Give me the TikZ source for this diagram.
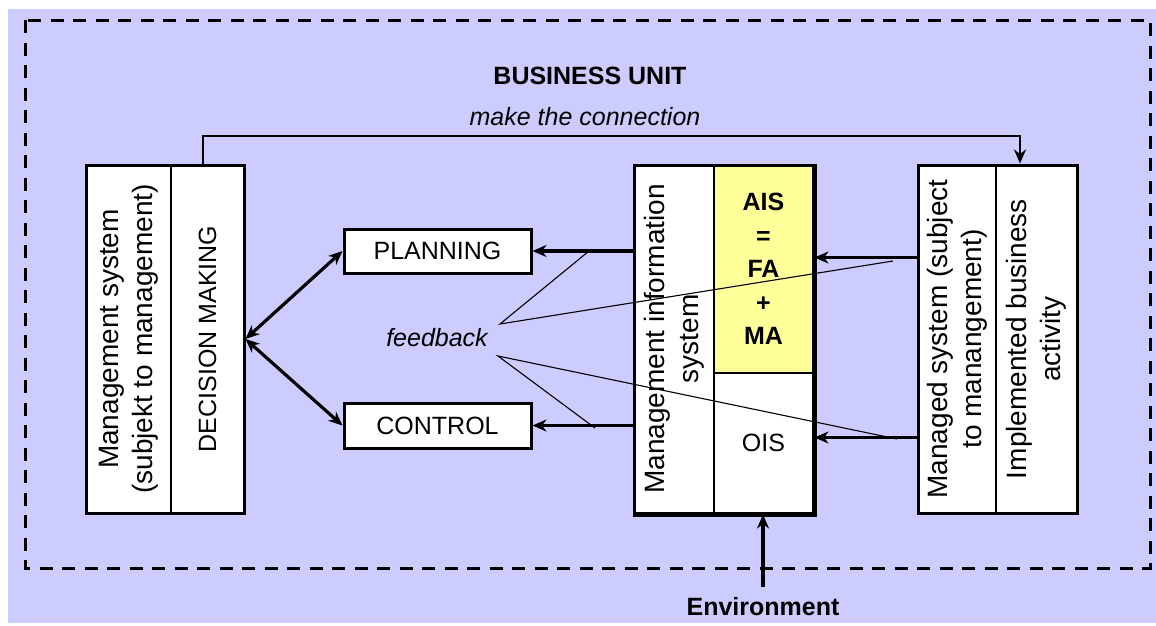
\documentclass[tikz,border=0pt]{standalone}
\usepackage{fontspec}
\setmainfont{Liberation Sans}
\usetikzlibrary{arrows.meta,calc}
\definecolor{bgblue}{HTML}{CCCCFF}
\definecolor{aisyellow}{HTML}{FFFF99}
\begin{document}
\begin{tikzpicture}[x=1pt,y=1pt,
  frame/.style={draw=black, line width=3pt, inner sep=0pt},
  box/.style={draw=black, line width=3pt, fill=white, inner sep=0pt, font=\fontsize{25}{30}\selectfont},
  col/.style={draw=black, line width=2pt, fill=white, inner sep=0pt, outer sep=0pt},
  vtxt/.style={rotate=90, align=center, font=\fontsize{28}{34}\selectfont, inner sep=0pt},
  txt/.style={inner sep=0pt, font=\fontsize{25}{30}\selectfont},
  tip/.tip={Stealth[length=14pt,width=12pt,inset=4.5pt]},
  arr/.style={line width=3.2pt, -tip},
  darr/.style={line width=3.2pt, tip-tip},
  fbline/.style={line width=1.1pt},
]
\useasboundingbox (0,0) rectangle (1156,-625);
\fill[bgblue] (8,-9) rectangle (1156,-623);
\draw[line width=3pt, dash pattern=on 13pt off 9.5pt] (25,-20) rectangle (1150,-568);

% titles
\node[txt, font=\fontsize{25}{30}\selectfont\bfseries, anchor=base] (title) at (590,-84) {BUSINESS UNIT};
\node[txt, font=\fontsize{25}{30}\selectfont\itshape, anchor=base] (mtc) at (585,-125) {make the connection};

% left box
\node[col, minimum width=85, minimum height=348] (ms1) at (128.5,-339) {};
\node[col, minimum width=73, minimum height=348] (ms2) at (207.5,-339) {};
\node[frame, minimum width=158, minimum height=348] (ms) at (165,-339) {};
\node[vtxt] (ms1t) at (ms1) {Management system\\(subjekt to management)};
\node[vtxt, font=\fontsize{25}{30}\selectfont] (ms2t) at (ms2) {DECISION MAKING};

% MIS box
\node[col, minimum width=80, minimum height=348] (mis1) at (674,-339) {};
\node[col, fill=aisyellow, minimum width=99, minimum height=208] (ais) at (763.5,-269) {};
\node[col, minimum width=99, minimum height=140] (ois) at (763.5,-443) {};
\node[frame, minimum width=179, minimum height=348] (mis) at (723.5,-339) {};
\draw[line width=4pt] (mis.north east) -- (mis.south east) -- (mis.south west);
\node[vtxt] (mis1t) at (mis1) {Management information\\system};
\node[txt, align=center, font=\fontsize{25}{33.5}\selectfont\bfseries] (aist) at (ais) {AIS\\=\\FA\\+\\MA};
\node[txt] (oist) at (ois) {OIS};

% right box
\node[col, minimum width=78, minimum height=348] (msd1) at (957,-339) {};
\node[col, minimum width=81, minimum height=348] (im) at (1036.5,-339) {};
\node[frame, minimum width=159, minimum height=348] (msd) at (997.5,-339) {};
\node[vtxt] (msd1t) at (msd1) {Managed system (subject\\to manangement)};
\node[vtxt] (imt) at (im) {Implemented business\\activity};

% planning / control
\node[box, minimum width=187, minimum height=44] (pl) at (437.5,-251) {PLANNING};
\node[box, minimum width=187, minimum height=45] (ctl) at (437.5,-425.5) {CONTROL};

% arrows
\draw[arr] (mis.west |- pl.east) -- (pl.east);
\draw[arr] (mis.west |- ctl.east) -- (ctl.east);
\draw[arr] ([yshift=-94pt]msd.north west) -- ([yshift=-94pt]mis.north east);
\draw[arr] ([yshift=-274pt]msd.north west) -- ([yshift=-274pt]mis.north east);
\draw[darr] (ms.east) -- (pl.west);
\draw[darr] (ms.east) -- (ctl.west);

\coordinate (c0) at (203,-136);
\coordinate (c1) at (1020,-136);
\draw[arr, line width=2.3pt] (c0 |- ms.north) -- (c0) -- (c1) -- (c1 |- msd.north);

% environment
\node[txt, font=\fontsize{25}{30}\selectfont\bfseries, anchor=base] (env) at (763,-615) {Environment};
\draw[arr] ([yshift=10pt]env.north) -- (env.north |- mis.south);

% feedback
\node[txt, font=\fontsize{25}{30}\selectfont\itshape] (fb) at (437,-338) {feedback};
\coordinate (f1) at (500,-324);
\coordinate (f2) at (498,-356);
\coordinate (p1) at (589,-251);
\coordinate (p2) at (893,-261);
\coordinate (p3) at (595,-428);
\coordinate (p4) at (897,-439);
\draw[fbline] (p1) -- (f1) -- (p2);
\draw[fbline] (p3) -- (f2) -- (p4);
\end{tikzpicture}
\end{document}
